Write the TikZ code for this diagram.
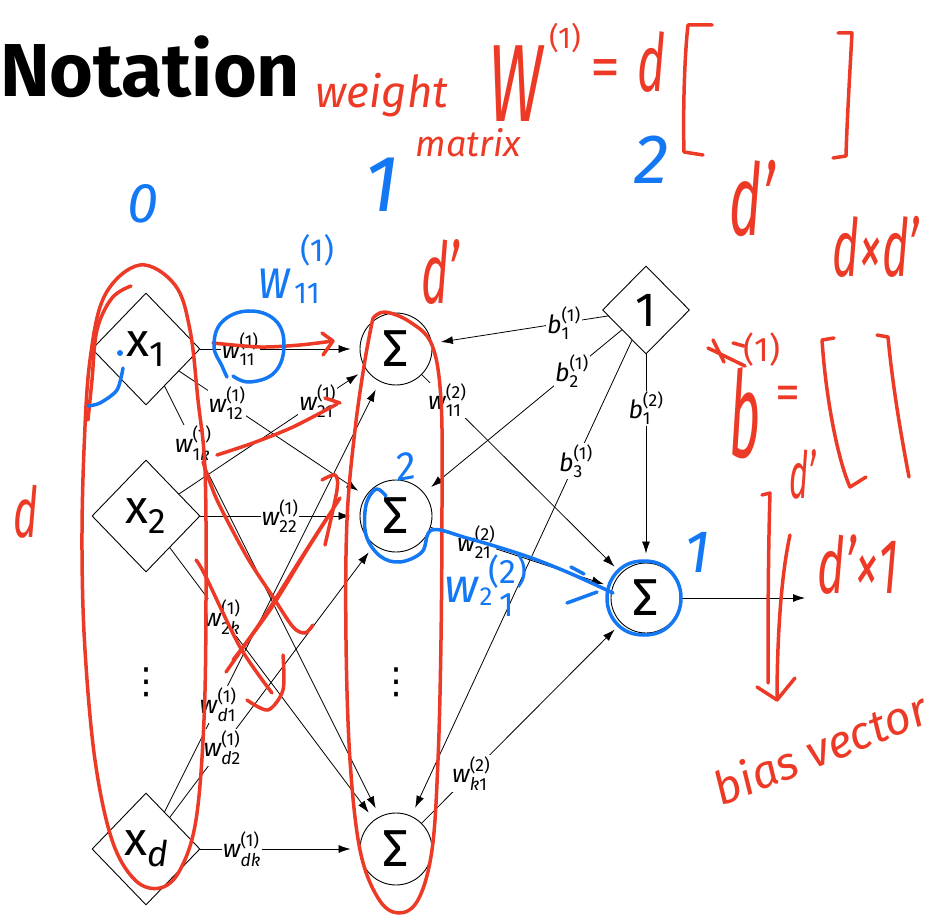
\documentclass[tikz,border=0pt]{standalone}
\usepackage{fontspec}
\usepackage{amsmath}
\usepackage{graphicx}
\setmainfont{Fira Sans}
\newfontfamily\djv{DejaVu Sans}
\usetikzlibrary{shapes.geometric,arrows.meta}
\definecolor{pen}{RGB}{236,58,38}
\definecolor{bpen}{RGB}{20,120,245}
\newcommand\wl[3]{\ensuremath{\text{\itshape #1}^{\text{#2}}_{\text{#3}}}}
\newcommand\xsub[1]{\scalebox{1.18}{x\raisebox{-9pt}{\fontsize{30}{30}\selectfont #1}}}
\newcommand\sig{\scalebox{1.3}{Σ}}
\newcommand\hw[1]{\fontsize{#1}{#1}\selectfont\itshape}
\begin{document}
\begin{tikzpicture}[x=1pt,y=-1pt,
  dia/.style={diamond,draw,line width=0.9pt,minimum width=108pt,minimum height=112pt,inner sep=0pt,font=\fontsize{40}{44}\selectfont},
  sumn/.style={circle,draw,line width=0.9pt,minimum size=72pt,inner sep=0pt,font=\fontsize{40}{44}\selectfont},
  vdot/.style={inner sep=0pt,font=\djv\fontsize{36}{40}\selectfont},
  edge/.style={line width=0.8pt,-{Latex[length=12pt,width=8pt]},shorten >=9pt},
  lab/.style={fill=white,inner sep=1pt,font=\fontsize{25}{27}\selectfont},
  rp/.style={draw=pen,line width=3.5pt,line cap=round,line join=round},
  bp/.style={draw=bpen,line width=3.5pt,line cap=round,line join=round},
  rt/.style={text=pen,inner sep=0pt},
  bt/.style={text=bpen,inner sep=0pt}]
\useasboundingbox (0,0) rectangle (938,920);
% title
\node[anchor=base west,inner sep=0pt,font=\fontsize{75}{80}\selectfont\bfseries] (title) at (0,97) {Notation};
% nodes
\node[dia] (x1) at (146,349) {\xsub{1}};
\node[dia] (x2) at (146,516) {\xsub{2}};
\node[vdot] (vd1) at (146,682) {⋮};
\node[dia] (xd) at (146,849) {\xsub{\itshape d}};
\node[sumn] (h1) at (396,349) {\sig};
\node[sumn] (h2) at (396,516) {\sig};
\node[vdot] (vd2) at (396,682) {⋮};
\node[sumn] (hk) at (396,849) {\sig};
\node[diamond,draw,line width=0.9pt,minimum width=87pt,minimum height=88pt,inner sep=0pt,font=\fontsize{40}{44}\selectfont] (one) at (646,310) {\scalebox{1.2}{1}};
\node[sumn,minimum size=70pt] (out) at (646,598) {\sig};
\coordinate (y) at (805,598);
% input -> hidden
\draw[edge] (x1) -- node[lab,pos=0.25]{\wl{w}{(1)}{11}} (h1);
\draw[edge] (x1) -- node[lab,pos=0.257]{\wl{w}{(1)}{12}} (h2);
\draw[edge] (x1) -- node[lab,pos=0.133]{\wl{w}{(1)}{1\itshape k}} (hk);
\draw[edge] (x2) -- node[lab,pos=0.743]{\wl{w}{(1)}{21}} (h1);
\draw[edge] (x2) -- node[lab,pos=0.5]{\wl{w}{(1)}{22}} (h2);
\draw[edge] (x2) -- node[lab,pos=0.256]{\wl{w}{(1)}{2\itshape k}} (hk);
\draw[edge] (xd) -- node[lab,pos=0.249]{\wl{w}{(1)}{\itshape d\upshape 1}} (h1);
\draw[edge] (xd) -- node[lab,pos=0.256]{\wl{w}{(1)}{\itshape d\upshape 2}} (h2);
\draw[edge] (xd) -- node[lab,pos=0.26]{\wl{w}{(1)}{\itshape dk}} (hk);
% hidden -> output
\draw[edge] (h1) -- node[lab,pos=0.128]{\wl{w}{(2)}{11}} (out);
\draw[edge] (h2) -- node[lab,pos=0.251]{\wl{w}{(2)}{21}} (out);
\draw[edge] (hk) -- node[lab,pos=0.248]{\wl{w}{(2)}{\itshape k\upshape 1}} (out);
% bias
\draw[edge] (one) -- node[lab,pos=0.25]{\wl{b}{(1)}{1}} (h1);
\draw[edge] (one) -- node[lab,pos=0.252]{\wl{b}{(1)}{2}} (h2);
\draw[edge] (one) -- node[lab,pos=0.254]{\wl{b}{(1)}{3}} (hk);
\draw[edge] (one) -- node[lab,pos=0.258]{\wl{b}{(2)}{1}} (out);
\draw[edge,shorten >=0pt] (out) -- (y);

% ---------- red handwriting ----------
\node[rt,anchor=base,font=\hw{44}] (tw) at (382,108) {weight};
\node[rt,anchor=base,font=\hw{36}] (tm) at (468,157) {matrix};
\node[rt,anchor=base,font=\hw{110}] (tW) at (516,122) {\scalebox{0.6}[1]{W}};
\node[rt,font=\hw{30}\upshape] (tW1) at (565,38) {(1)};
\node[rt,font=\hw{60}\upshape] (teq) at (605,74) {=};
\node[rt,font=\hw{80}] (td) at (652,62) {\scalebox{0.6}[1]{d}};
\draw[rp] (712,25) -- (688,25) .. controls (684,60) and (683,120) .. (684,152) -- (703,155);
\draw[rp] (838,33) -- (852,33) .. controls (850,70) and (847,120) .. (846,156) -- (833,158);
\node[rt,font=\hw{100}] (tdp) at (752,198) {\scalebox{0.55}[1]{d’}};
\node[rt,font=\hw{80}] (tdd) at (876,247) {\scalebox{0.57}[1]{d×d’}};
\node[rt,font=\hw{85}] (tdh) at (440,272) {\scalebox{0.55}[1]{d’}};
\node[rt,font=\hw{70}] (tdl) at (26,512) {\scalebox{0.6}[1]{d}};
\node[rt,font=\hw{120}] (tb) at (745,413) {\scalebox{0.45}[1]{b}};
\node[rt,font=\hw{34}\upshape] (tb1) at (762,350) {(1)};
\node[rt,font=\hw{50}\upshape] (tbeq) at (788,398) {=};
\draw[rp] (708,348) -- (745,366) (713,340) -- (724,362) (733,343) -- (744,346);
\draw[rp] (834,338) -- (822,340) .. controls (826,400) and (838,460) .. (850,487) -- (866,477);
\draw[rp] (877,335) -- (888,337) .. controls (893,390) and (902,440) .. (909,477);
\node[rt,font=\hw{65}] (tdp2) at (803,474) {\scalebox{0.5}[1]{d’}};
\draw[rp] (762,495) -- (770,493) .. controls (768,560) and (768,630) .. (768,683);
\draw[rp] (790,535) .. controls (780,580) and (777,650) .. (777,700);
\draw[rp] (757,687) -- (777,700) -- (795,678);
\node[rt,font=\hw{78}] (tdx1) at (858,565) {\scalebox{0.6}[1]{d’×1}};
\node[rt,font=\hw{46},rotate=22] (tbv) at (820,748) {bias vector};
% red loops
\draw[rp] plot[smooth cycle,tension=0.6] coordinates {(140,265) (175,285) (190,330) (198,400) (205,470) (206,600) (204,720) (196,820) (180,870) (160,888) (135,880) (112,840) (95,760) (85,650) (82,550) (84,450) (90,360) (105,295)};
\draw[rp] plot[smooth,tension=0.6] coordinates {(131,286) (112,298) (97,330) (92,380) (88,420)};
\draw[rp] plot[smooth,tension=0.6] coordinates {(373,318) (385,312) (410,322) (432,345) (441,400) (442,500) (441,640) (438,760) (432,850) (418,900) (398,913) (378,898) (360,850) (350,760) (346,640) (347,520) (355,430) (365,360) (373,318)};
% red strokes on edges
\draw[rp] plot[smooth] coordinates {(213,343) (260,347) (300,345) (333,341)};
\draw[rp] (322,333) -- (333,341) -- (323,355);
\draw[rp] plot[smooth] coordinates {(217,455) (253,443) (293,427) (337,404)};
\draw[rp] (325,398) -- (340,403);
\draw[rp] plot[smooth] coordinates {(322,480) (335,475) (337,490) (325,545)};
\draw[rp] plot[smooth] coordinates {(203,462) (217,500) (247,557) (273,597) (293,627) (305,633) (313,625)};
\draw[rp] plot[smooth] coordinates {(196,560) (205,575) (240,647) (272,693)};
\draw[rp] plot[smooth] coordinates {(226,672) (262,620) (300,560) (327,518)};
\draw[rp] plot[smooth] coordinates {(233,660) (270,610) (310,545) (340,498)};
\draw[rp] plot[smooth] coordinates {(283,655) (283,690) (268,710) (247,700)};

% ---------- blue handwriting ----------
\node[bt,font=\hw{56}] (b0) at (143,204) {0};
\node[bt,font=\hw{80}] (b1) at (382,185) {1};
\node[bt,font=\hw{70}] (b2) at (652,160) {2};
\node[bt,font=\hw{56}] (bw) at (274,284) {\scalebox{0.8}[1]{w}};
\node[bt,font=\hw{30}\upshape] (bw11) at (307,293) {11};
\node[bt,font=\hw{32}\upshape] (bw1) at (317,250) {(1)};
\draw[bp] plot[smooth,tension=0.7] coordinates {(227,377) (222,366) (214,346) (222,322) (248,311) (275,320) (284,345) (275,372) (250,382) (233,376)};
\fill[bpen] (120,353) circle (3pt);
\draw[bp] plot[smooth] coordinates {(123,368) (117,390) (100,403) (88,406)};
\node[bt,font=\hw{40},rotate=10] (bh2) at (406,466) {2};
\draw[bp] plot[smooth,tension=0.6] coordinates {(386,496) (376,489) (366,505) (366,535) (380,556) (400,562) (422,552) (432,530) (467,538) (523,555) (567,572) (613,593)};
\node[bt,font=\hw{48}] (bw2) at (462,590) {w};
\node[bt,font=\hw{26}\upshape] (bw2s) at (486,597) {2};
\node[bt,font=\hw{34}\upshape] (bw2p) at (508,572) {(2)};
\node[bt,font=\hw{34}\upshape] (bw2o) at (507,605) {1};
\draw[bp] (567,603) -- (597,592) (571,567) -- (584,574);
\draw[bp] plot[smooth cycle,tension=0.7] coordinates {(644,561) (670,571) (681,598) (670,625) (644,635) (618,625) (607,598) (618,571)};
\node[bt,font=\hw{60}] (bo1) at (697,552) {1};
\end{tikzpicture}
\end{document}
